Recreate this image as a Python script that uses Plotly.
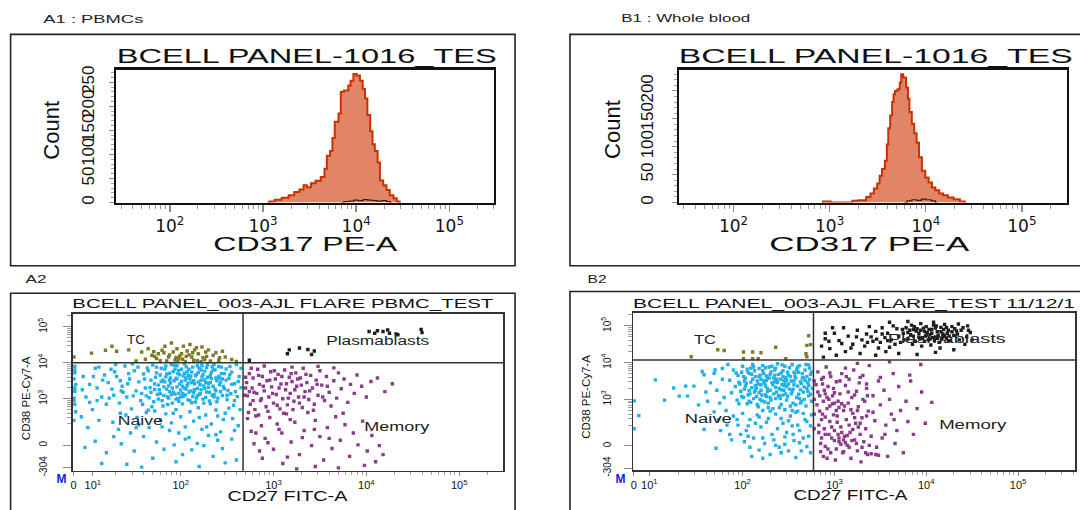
import math
import json
import plotly.graph_objects as go

W, H = 1080, 510

# ---------------- data ----------------
hist_decades = [2, 3, 4, 5]
hist_tick_text = ['10<sup>2</sup>', '10<sup>3</sup>', '10<sup>4</sup>', '10<sup>5</sup>']
count_ticks = [0, 50, 100, 150, 200, 250]

# A1 PBMCs, CD317 PE-A histogram (log10 intensity, counts)
a1_cd317_log = [3.05, 3.09, 3.16, 3.24, 3.31, 3.36, 3.42, 3.45, 3.49, 3.54,
                3.59, 3.65, 3.67, 3.70, 3.74, 3.75, 3.79, 3.83, 3.84, 3.90,
                3.93, 3.95, 3.99, 4.02, 4.06, 4.08, 4.11, 4.13, 4.17, 4.18,
                4.22, 4.24, 4.27, 4.31, 4.34, 4.38, 4.42, 4.45, 4.48]
a1_count = [0, 2, 6, 10, 15, 22, 27, 36, 32, 40,
            45, 53, 70, 97, 107, 134, 168, 185, 230, 233,
            243, 253, 267, 264, 253, 236, 216, 182, 148, 121,
            107, 83, 46, 36, 26, 15, 9, 2, 0]
a1_ctrl_log = [3.84, 3.90, 3.95, 4.00, 4.05, 4.10, 4.15, 4.20, 4.25, 4.30, 4.35, 4.38]
a1_ctrl_count = [0, 2, 3, 5, 4, 6, 5, 4, 3, 4, 2, 0]

# B1 whole blood
b1_cd317_log = [2.92, 2.94, 3.00, 3.02, 3.22, 3.25, 3.35, 3.41, 3.44, 3.48,
                3.51, 3.53, 3.56, 3.59, 3.60, 3.62, 3.64, 3.66, 3.67, 3.69,
                3.72, 3.74, 3.75, 3.78, 3.81, 3.82, 3.84, 3.87, 3.89, 3.92,
                3.94, 3.98, 4.01, 4.05, 4.08, 4.12, 4.16, 4.20, 4.26, 4.32,
                4.39, 4.42]
b1_count = [0, 2, 2, 0, 0, 3, 4, 10, 16, 25,
            34, 48, 60, 75, 104, 133, 156, 180, 194, 200,
            203, 215, 230, 224, 206, 186, 162, 141, 124, 107,
            81, 57, 45, 36, 27, 22, 16, 13, 9, 6,
            2, 0]
b1_ctrl_log = [3.78, 3.83, 3.88, 3.93, 3.98, 4.03, 4.08, 4.12]
b1_ctrl_count = [0, 3, 5, 4, 6, 5, 3, 0]

quadrant_names = ['TC', 'Plasmablasts', 'Naive', 'Memory']
scatter_y_text = ['-304', '0', '10<sup>3</sup>', '10<sup>4</sup>', '10<sup>5</sup>']
scatter_x_text = ['0', '10<sup>1</sup>', '10<sup>2</sup>', '10<sup>3</sup>', '10<sup>4</sup>', '10<sup>5</sup>']

# A2 PBMC events: (CD27 display decade, CD38 display decade)
a2_naive = [
 (1.72,3.41),(1.75,3.12),(1.78,3.66),(1.80,2.95),(1.81,3.52),(1.83,3.83),(1.85,3.27),(1.86,3.05),(1.88,3.71),(1.89,3.44),
 (1.91,2.88),(1.92,3.18),(1.93,3.93),(1.95,3.57),(1.96,3.33),(1.97,3.01),(1.98,3.79),(2.00,3.24),(2.01,3.48),(2.02,2.86),
 (2.03,3.63),(2.05,3.11),(2.06,3.89),(2.07,3.37),(2.08,2.97),(2.10,3.55),(2.11,3.22),(2.12,3.74),(2.13,3.06),(2.15,3.42),
 (2.16,2.91),(2.17,3.68),(2.18,3.29),(2.20,3.85),(2.21,3.14),(2.22,3.51),(2.24,2.99),(2.25,3.36),(2.26,3.77),(2.28,3.19),
 (2.29,3.60),(2.31,2.94),(2.32,3.45),(2.34,3.09),(2.35,3.81),(2.37,3.27),(2.38,3.58),(2.40,3.02),(2.42,3.39),(2.44,3.70),
 (1.74,3.88),(1.77,3.25),(1.79,3.48),(1.82,3.09),(1.84,3.61),(1.87,3.36),(1.90,3.96),(1.94,3.13),(1.99,3.67),(2.04,3.30),
 (2.09,3.82),(2.14,3.17),(2.19,3.47),(2.23,3.92),(2.27,3.04),(2.30,3.32),(2.33,3.73),(2.36,3.12),(2.39,3.50),(2.41,3.90),
 (2.43,3.20),(2.45,3.55),(1.76,2.99),(1.86,2.84),(1.96,3.92),(2.06,3.58),(2.16,3.64),(2.26,3.53),(2.36,3.95),(2.02,3.15),
 (1.92,3.76),(2.12,2.89),(2.22,3.25),(1.88,3.20),(2.08,3.43),(2.18,3.08),(2.28,3.87),(1.98,2.93),(2.32,2.86),(2.04,3.97),
 (1.61,3.55),(1.63,3.08),(1.65,3.78),(1.67,3.31),(1.70,3.94),(1.71,2.92),(1.73,3.60),(1.76,3.38),(1.79,3.85),(1.81,2.80),
 (1.83,3.47),(1.85,3.69),(1.87,3.02),(1.89,3.58),(1.91,3.30),(1.93,3.50),(1.95,2.99),(1.97,3.70),(1.99,3.41),(2.01,3.82),
 (2.03,3.07),(2.05,3.52),(2.07,3.75),(2.09,3.19),(2.11,3.63),(2.13,3.88),(2.15,3.25),(2.17,3.02),(2.19,3.73),(2.21,3.39),
 (2.23,3.61),(2.25,2.88),(2.27,3.45),(2.29,3.95),(2.31,3.18),(2.33,3.56),(2.35,3.35),(2.37,3.80),(2.39,2.92),(2.41,3.62),
 (2.43,3.46),(2.45,3.09),(2.47,3.70),(2.49,3.52),(2.51,3.23),(2.53,3.67),(2.55,3.40),(1.68,3.18),(1.74,3.72),(1.78,3.14),
 (1.84,3.91),(1.90,3.12),(1.96,3.55),(2.02,3.35),(2.08,3.65),(2.14,3.50),(2.20,3.12),(2.26,3.29),(2.32,3.64),(2.38,3.22),
 (2.44,3.88),(2.50,3.10),(1.88,3.52),(1.94,3.82),(2.00,3.05),(2.06,3.27),(2.12,3.45),(2.18,3.92),(2.24,3.68),(2.30,3.43),
 (2.36,3.05),(2.42,3.58),(1.82,3.33),(1.98,3.15),(2.10,2.95),(2.22,3.80),(2.34,3.90),(2.46,3.34),(1.72,3.26),(2.04,3.71),
 (1.22,3.45),(1.25,3.82),(1.28,3.10),(1.31,3.62),(1.34,2.88),(1.37,3.35),(1.40,3.91),(1.42,3.05),(1.45,3.55),(1.47,2.72),
 (1.50,3.78),(1.52,3.22),(1.55,3.47),(1.57,2.95),(1.60,3.69),(1.62,3.30),(1.64,3.86),(1.66,3.03),(1.68,3.52),(1.69,2.78),
 (1.30,3.95),(1.38,3.18),(1.48,3.97),(1.58,3.15),(1.63,2.62),(1.53,2.48),(1.44,3.70),(1.35,3.50),(1.26,3.27),(1.18,3.66),
 (1.15,3.05),(1.12,3.88),(1.10,3.30),(1.16,3.52),(1.23,3.02),(1.29,3.75),(1.36,3.22),(1.43,3.42),(1.49,3.08),(1.54,3.88),
 (1.59,2.85),(1.65,2.68),(1.02,2.90),(0.94,3.25),(1.06,3.62),(1.35,2.60),(1.52,2.20),
 (2.47,3.28),(2.49,3.83),(2.50,2.98),(2.52,3.57),(2.54,3.14),(2.55,3.74),(2.57,2.82),(2.58,3.42),(2.60,3.95),(2.61,3.06),
 (2.63,3.62),(2.64,2.70),(2.65,3.31),(2.48,2.60),(2.56,2.45),(2.62,2.25),(2.53,3.90),(2.59,3.20),(2.58,2.95),(2.62,3.48),
 (2.65,3.85),(2.52,2.74),
 (1.72,2.66),(1.78,2.41),(1.84,2.58),(1.90,2.33),(1.95,2.70),(2.00,2.50),(2.05,2.22),(2.10,2.64),(2.14,2.38),(2.19,2.75),
 (2.23,2.15),(2.27,2.55),(2.33,2.30),(2.38,2.69),(2.43,2.08),(2.46,2.42),(1.98,2.05),(2.09,1.92),(2.30,1.98),(2.40,1.85),
 (1.88,2.12),(2.18,1.76),(2.40,2.52),(2.20,2.48),(1.92,2.60),(1.80,2.22),(2.28,2.22),(2.58,2.12),
 (0.95,3.62),(0.98,3.05),(1.02,3.40),(1.05,2.70),(1.08,3.85),(1.10,2.95),(0.93,2.50),(1.00,2.20),(1.12,2.40),(1.20,2.85),
 (1.27,2.35),(1.33,2.15),(1.41,2.55),(1.46,2.05),(1.55,2.28),(1.60,1.95),(1.66,2.20),(1.74,1.80),(1.82,1.60),(1.93,1.72),
 (2.02,1.45),(2.12,1.58),(2.25,1.70),(2.35,1.40),(2.45,1.62),(2.55,1.88),(2.60,1.30),(1.70,1.35),(1.50,1.55),(1.36,1.75),
 (1.20,1.50),(1.08,1.82),(0.97,1.65),(1.15,1.20),(1.42,1.18),(1.95,1.25),(2.20,1.12),(2.48,1.22),(1.58,1.10),(2.05,1.88),
 (2.38,2.00),(1.28,1.95),
 (0.86,3.90),(0.86,3.72),(0.85,3.55),(0.87,3.40),(0.86,3.21),(0.85,3.02),(0.86,2.85),(0.87,2.64),(0.85,2.40),(0.86,3.80),
 (0.86,3.30),(0.85,2.95),
]
a2_tc = [
 (1.04,4.27),(1.19,4.35),(1.26,4.46),(1.31,4.32),(1.44,4.36),(1.58,4.30),(1.65,4.39),(1.69,4.21),(1.74,4.12),(1.76,4.25),
 (1.80,4.35),(1.83,4.46),(1.87,4.16),(1.90,4.55),(1.92,4.30),(1.96,4.39),(1.98,4.12),(2.01,4.25),(2.03,4.46),(2.07,4.33),
 (2.10,4.51),(2.12,4.16),(2.15,4.36),(2.19,4.25),(2.23,4.44),(2.26,4.09),(2.30,4.36),(2.35,4.21),(2.41,4.07),(2.48,4.16),
 (2.55,4.09),(0.85,4.16),(1.85,4.05),(1.94,4.08),(2.05,4.04),(2.14,4.07),(2.22,4.03),(1.78,4.06),(1.99,4.19),(2.09,4.22),
 (2.28,4.18),(1.71,4.31),(2.17,4.42),(1.62,4.10),(2.38,4.28),(2.60,4.04),(1.52,4.05),(2.45,4.32),(1.88,4.22),(1.95,4.15),
 (2.02,4.10),(2.06,4.18),(2.13,4.28),(2.18,4.06),(2.24,4.14),(2.32,4.05),(1.82,4.28),(1.97,4.04),(2.27,4.30),(1.72,4.18),
 (2.42,4.14),
]
a2_plasma = [
 (3.15,4.25),(3.17,4.36),(3.28,4.41),(3.37,4.37),(3.41,4.23),(3.44,4.33),(4.03,4.87),(4.09,4.82),(4.12,4.89),(4.18,4.87),
 (4.23,4.91),(4.25,4.82),(4.32,4.80),(4.34,4.78),(4.59,4.93),(4.60,4.84),(2.74,4.07),
]
a2_memory = [
 (2.71,3.45),(2.72,3.08),(2.74,3.70),(2.75,2.85),(2.77,3.30),(2.78,3.58),(2.80,2.70),(2.82,3.15),(2.83,3.82),(2.85,3.40),
 (2.86,2.95),(2.88,3.62),(2.90,3.22),(2.92,2.78),(2.93,3.50),(2.95,3.05),(2.97,3.75),(2.98,3.33),(3.00,2.88),(3.02,3.55),
 (3.03,3.12),(3.05,3.68),(3.07,2.72),(3.08,3.41),(3.10,3.00),(3.12,3.80),(3.13,3.25),(3.15,2.83),(3.17,3.60),(3.18,3.15),
 (3.20,3.48),(3.22,2.93),(3.24,3.72),(3.25,3.35),(3.27,3.05),(3.29,3.58),(3.31,2.76),(3.32,3.85),(3.34,3.20),(3.36,3.45),
 (3.38,2.98),(3.40,3.65),(3.42,3.30),(3.44,2.85),(3.46,3.52),(3.48,3.10),(3.50,3.78),(3.52,3.38),(3.55,2.95),(3.57,3.62),
 (3.60,3.18),(3.62,2.80),(3.65,3.50),(3.68,3.02),(3.70,3.72),(3.73,3.28),(3.76,3.55),(3.80,2.90),(3.83,3.40),(3.87,3.15),
 (3.90,3.66),(3.95,3.35),(4.00,3.05),(4.05,3.48),(4.12,3.58),(4.20,3.20),(4.28,3.42),(3.48,3.90),(3.20,3.88),(2.90,3.91),
 (3.65,3.86),
 (2.73,2.62),(2.76,3.85),(2.79,3.18),(2.81,2.52),(2.84,3.65),(2.87,3.00),(2.89,3.35),(2.94,2.65),(2.96,3.52),(2.99,3.15),
 (3.01,3.78),(3.04,2.82),(3.06,3.30),(3.09,3.62),(3.11,2.60),(3.14,3.42),(3.16,3.02),(3.19,3.70),(3.21,2.70),(3.23,3.25),
 (3.26,3.55),(3.28,2.88),(3.30,3.38),(3.33,3.05),(3.35,3.68),(3.39,3.22),(3.43,2.68),(3.47,3.40),(3.53,3.05),(3.58,3.35),
 (2.72,2.45),(2.76,2.10),(2.79,1.75),(2.84,2.55),(2.87,2.25),(2.91,1.90),(2.96,2.48),(3.00,1.60),(3.04,2.30),(3.09,2.05),
 (3.14,2.58),(3.19,1.80),(3.23,2.35),(3.28,1.45),(3.33,2.12),(3.37,2.62),(3.41,1.70),(3.45,2.40),(3.50,1.95),(3.54,1.30),
 (3.58,2.20),(3.63,1.62),(3.67,2.50),(3.72,1.85),(3.77,2.28),(3.82,1.40),(3.86,2.05),(3.91,1.72),(3.96,2.38),(4.01,1.55),
 (4.06,1.98),(4.10,1.25),(4.14,1.70),(4.18,1.45),(3.45,1.12),(3.10,1.20),(2.88,1.35),(3.70,1.08),(3.98,1.15),(3.25,1.05),
 (2.81,2.05),(2.94,1.78),(3.06,2.15),(3.18,2.42),(3.31,1.92),(3.44,2.15),(3.60,1.90),(3.75,2.60),(2.85,1.55),(3.15,1.38),
 (2.78,2.95),(2.74,3.20),(2.70,3.30),(2.70,3.60),(2.69,3.10),
]

# B2 whole blood events
b2_naive = [
 (1.86,3.52),(1.88,3.18),(1.90,3.80),(1.92,3.35),(1.94,2.98),(1.95,3.65),(1.97,3.42),(1.99,3.08),(2.00,3.90),(2.02,3.28),
 (2.03,3.58),(2.05,2.88),(2.06,3.73),(2.08,3.15),(2.09,3.47),(2.11,3.95),(2.12,3.02),(2.14,3.62),(2.15,3.30),(2.17,2.80),
 (2.18,3.84),(2.20,3.40),(2.21,3.12),(2.23,3.70),(2.24,2.93),(2.26,3.52),(2.27,3.22),(2.29,3.88),(2.30,3.05),(2.32,3.45),
 (2.33,2.75),(2.35,3.66),(2.36,3.33),(2.38,3.97),(2.39,3.10),(2.41,3.55),(2.42,2.86),(2.44,3.78),(2.45,3.25),(2.47,3.60),
 (2.48,2.98),(2.50,3.42),(2.51,3.86),(2.53,3.15),(2.54,2.70),(2.56,3.50),(2.57,3.72),(2.59,3.05),(2.60,3.36),(2.62,3.92),
 (2.63,2.90),(2.65,3.58),(2.66,3.20),(2.68,3.80),(2.69,2.82),(2.71,3.46),(2.72,3.10),(2.74,3.68),(2.75,2.95),(2.76,3.30),
 (1.93,3.72),(1.98,3.22),(2.04,3.44),(2.07,2.95),(2.10,3.68),(2.13,3.20),(2.16,3.50),(2.19,3.00),(2.22,3.92),(2.25,3.36),
 (2.28,2.90),(2.31,3.75),(2.34,3.15),(2.37,3.55),(2.40,2.78),(2.43,3.40),(2.46,3.90),(2.49,3.08),(2.52,3.62),(2.55,3.28),
 (2.58,2.85),(2.61,3.74),(2.64,3.44),(2.67,3.00),(2.70,3.62),(2.73,3.85),(2.01,3.62),(2.09,3.85),(2.18,3.62),(2.27,3.60),
 (2.36,3.85),(2.45,3.52),(2.54,3.95),(2.63,3.26),(2.72,3.38),(1.96,2.88),(2.22,2.70),(2.46,2.72),(2.60,2.68),(2.30,3.25),
 (2.40,3.30),(2.20,3.25),(2.35,3.48),(2.25,3.12),(2.48,3.35),(2.14,3.38),
 (1.96,3.46),(1.99,3.74),(2.01,3.05),(2.03,3.36),(2.05,3.82),(2.07,3.24),(2.09,2.92),(2.11,3.55),(2.13,3.78),(2.15,3.08),
 (2.17,3.42),(2.19,3.66),(2.21,2.96),(2.23,3.50),(2.25,3.86),(2.27,3.30),(2.29,3.58),(2.31,2.98),(2.33,3.40),(2.35,3.80),
 (2.37,3.20),(2.39,3.68),(2.41,3.02),(2.43,3.94),(2.45,3.38),(2.47,3.15),(2.49,3.74),(2.51,3.28),(2.53,3.50),(2.55,2.90),
 (2.57,3.62),(2.59,3.82),(2.61,3.14),(2.63,3.48),(2.65,3.70),(2.67,3.34),(2.69,3.95),(2.71,3.22),(2.73,3.54),(2.75,3.75),
 (2.02,3.50),(2.08,3.70),(2.14,3.26),(2.20,3.55),(2.26,3.08),(2.32,3.90),(2.38,3.46),(2.44,3.12),(2.50,3.66),(2.56,3.40),
 (2.62,3.02),(2.68,3.52),(2.74,3.14),(2.06,3.12),(2.12,3.88),(2.18,3.18),(2.24,3.44),(2.30,3.68),(2.36,3.02),(2.42,3.72),
 (2.48,3.52),(2.54,3.22),(2.60,3.88),(2.66,3.60),(2.72,3.94),(2.16,2.86),(2.28,2.78),(2.40,3.10),(2.52,2.82),(2.64,2.95),
 (2.34,3.58),(2.22,3.78),(2.46,3.44),(2.58,3.58),(2.70,3.30),(2.10,3.32),(2.26,3.64),(2.42,3.26),(2.56,3.74),(2.44,3.62),
 (1.90,2.55),(1.95,2.30),(2.00,2.62),(2.04,2.15),(2.08,2.45),(2.12,1.95),(2.16,2.58),(2.20,2.25),(2.24,1.80),(2.28,2.48),
 (2.32,2.05),(2.36,2.60),(2.40,1.70),(2.44,2.35),(2.48,2.10),(2.52,2.55),(2.56,1.88),(2.60,2.30),(2.64,1.60),(2.68,2.45),
 (2.72,2.00),(2.75,2.58),(2.02,1.85),(2.18,1.62),(2.30,1.50),(2.46,1.78),(2.58,1.42),(2.70,1.72),(2.38,2.20),(2.26,2.38),
 (2.50,2.42),(2.62,2.15),(2.14,2.35),(2.06,2.00),(2.34,1.90),(2.74,2.28),(1.98,2.05),(2.55,2.05),(2.42,1.55),(2.66,1.95),
 (1.94,2.45),(2.06,2.28),(2.18,2.52),(2.30,2.68),(2.42,2.48),(2.54,2.28),(2.66,2.62),(2.22,1.95),(2.46,1.98),(2.62,1.82),
 (2.74,1.55),(2.08,1.70),(2.36,1.75),(2.50,1.60),(2.58,2.65),(2.70,2.40),
 (1.05,3.53),(1.25,3.31),(1.38,3.36),(1.47,3.36),(1.56,3.76),(1.58,3.67),(1.69,3.71),(1.78,3.84),(1.15,2.98),(1.40,3.09),
 (0.87,2.56),(0.82,2.96),(0.82,2.20),(1.58,2.18),(1.71,1.67),(1.69,2.66),(1.31,3.09),
 (1.72,3.25),(1.75,2.90),(1.78,3.55),(1.80,3.05),(1.82,2.70),(1.84,3.95),(1.65,3.45),(1.62,2.95),(1.74,2.45),(1.83,2.30),
 (1.86,2.05),(1.70,3.80),(1.60,3.20),(1.52,2.85),(1.76,2.15),(1.88,1.90),(2.10,1.45),(2.22,1.40),
]
b2_tc = [
 (1.44,4.16),(1.73,4.35),(1.80,4.33),(2.01,4.29),(2.11,4.29),(2.20,4.27),(2.36,4.42),(2.47,4.11),(2.01,4.11),(2.11,4.11),
 (2.17,4.11),(2.70,4.47),(2.69,4.24),(2.72,4.73),(2.74,4.49),(2.70,4.16),
]
b2_plasma = [
 (3.75,4.80),(3.78,4.95),(3.80,4.65),(3.82,4.88),(3.84,5.02),(3.86,4.72),(3.88,4.58),(3.90,4.92),(3.92,4.80),(3.94,5.06),
 (3.96,4.68),(3.98,4.85),(4.00,4.98),(4.02,4.62),(4.04,4.76),(4.06,4.90),(4.08,5.10),(4.10,4.70),(4.12,4.84),(4.14,4.55),
 (4.16,4.96),(4.18,4.78),(4.20,5.04),(4.22,4.66),(4.24,4.88),(4.26,4.60),(4.28,4.98),(4.30,4.74),(4.33,4.86),(4.36,4.62),
 (4.40,4.95),(4.44,4.70),(4.48,4.82),(3.85,4.50),(3.95,4.45),(4.05,4.48),(4.15,4.40),(3.70,4.72),(3.72,4.55),(3.68,4.92),
 (4.01,4.82),(4.09,4.60),(3.93,4.64),(4.19,4.90),(3.83,4.76),(4.11,5.00),(3.99,4.72),(4.23,4.80),(3.89,4.86),(4.07,4.68),
 (3.97,4.94),(4.13,4.74),(3.87,4.98),(4.03,4.90),(4.17,4.64),(4.25,4.72),(4.31,4.92),
 (3.92,4.70),(3.98,4.58),(4.04,4.64),(4.10,4.94),(4.16,4.84),(4.22,4.96),(4.28,4.84),(3.86,4.90),(3.80,4.82),(4.00,4.75),
 (4.06,4.80),(4.12,4.66),(4.18,4.70),(4.24,4.60),(3.94,4.88),(4.08,5.02),(4.20,4.74),(3.76,4.62),(3.74,4.90),(4.34,4.78),
 (4.38,4.88),(4.46,4.88),
 (3.40,4.70),(3.45,4.85),(3.50,4.55),(3.52,4.95),(3.55,4.68),(3.58,4.80),(3.60,4.42),(3.62,4.62),(3.64,5.00),(3.66,4.50),
 (3.56,4.30),(3.48,4.40),(3.42,4.58),(3.35,4.78),(3.30,4.62),(3.25,4.88),(3.20,4.50),(3.15,4.72),(3.10,4.95),(3.05,4.60),
 (3.00,4.80),(2.95,4.38),(2.90,4.65),(2.86,4.45),(3.12,4.30),(3.28,4.25),(3.45,4.20),(3.70,4.25),(3.90,4.22),(4.10,4.28),
 (4.30,4.35),(4.42,4.50),(4.50,4.62),(3.02,4.20),(2.88,4.15),(3.38,4.98),(3.60,5.10),(3.80,5.12),(4.35,5.05),(4.45,5.00),
 (3.18,4.40),(3.33,4.45),(2.98,4.95),(3.58,4.60),(3.52,4.78),(3.46,4.64),(3.36,4.55),(3.24,4.70),(3.08,4.52),(2.94,4.58),
 (2.90,4.80),
]
b2_memory = [
 (2.80,3.40),(2.81,2.85),(2.82,3.75),(2.83,2.30),(2.84,3.10),(2.85,1.80),(2.86,3.55),(2.87,2.60),(2.88,1.45),(2.89,3.25),
 (2.90,2.05),(2.91,3.88),(2.92,2.75),(2.93,1.65),(2.94,3.00),(2.95,2.40),(2.96,3.62),(2.97,1.95),(2.98,2.88),(2.99,3.30),
 (3.00,2.15),(3.01,1.35),(3.02,3.48),(3.03,2.55),(3.04,2.95),(3.05,1.85),(3.06,3.15),(3.07,2.25),(3.08,3.70),(3.09,1.55),
 (3.10,2.70),(3.11,2.00),(3.12,3.38),(3.13,2.45),(3.14,1.75),(3.15,2.90),(3.16,3.55),(3.17,2.10),(3.18,1.40),(3.19,3.05),
 (3.20,2.62),(3.21,3.80),(3.22,1.90),(3.23,2.35),(3.24,3.22),(3.25,1.60),(3.26,2.80),(3.27,3.45),(3.28,2.05),(3.29,1.30),
 (3.30,2.50),(3.31,3.65),(3.32,1.85),(3.33,2.95),(3.34,2.20),(3.35,3.30),(3.36,1.50),(3.37,2.68),(3.38,3.92),(3.40,2.00),
 (3.42,3.10),(3.44,2.42),(3.46,1.70),(3.48,3.50),(3.50,2.85),(3.52,1.95),(3.54,3.25),(3.56,2.30),(3.58,1.45),(3.60,3.00),
 (3.62,2.60),(3.64,3.70),(3.66,1.80),(3.68,2.15),(3.70,3.35),(3.72,2.70),(3.75,1.55),(3.78,2.95),(3.80,2.40),(3.83,3.50),
 (3.86,2.05),(3.90,2.75),(3.95,3.20),(3.99,2.35),(3.60,4.02),(3.25,3.98),
 (2.95,2.82),(3.00,2.90),(3.05,2.78),(3.02,2.70),(3.08,2.88),(3.10,1.90),(3.05,1.95),(3.12,1.82),(3.07,1.78),(3.00,1.88),
 (2.90,3.15),(2.93,3.35),(2.88,2.95),(2.98,3.10),(3.15,3.20),(3.18,2.72),(3.22,2.50),(2.86,2.45),(2.89,2.20),(2.94,2.05),
 (3.26,2.25),(3.30,1.70),(3.34,1.55),(3.40,1.52),(3.45,1.50),(3.48,1.48),(2.85,1.58),(2.92,1.40),(3.28,3.60),(3.35,3.42),
 (2.82,3.20),(2.84,2.68),(2.87,3.42),(2.90,2.52),(2.92,3.05),(2.95,3.72),(2.97,2.25),(3.00,3.18),(3.03,2.38),(3.06,3.50),
 (3.08,2.10),(3.11,2.82),(3.13,3.62),(3.16,2.30),(3.19,1.88),(3.22,3.12),(3.25,2.70),(3.28,2.35),(3.31,3.00),(3.35,2.55),
 (2.86,1.95),(2.90,1.72),(2.96,1.55),(3.02,1.65),(3.10,1.58),(3.16,1.70),(3.24,1.80),(3.38,1.75),(2.83,2.10),(2.99,2.58),
 (3.04,2.05),(3.14,2.02),(3.20,2.18),(3.42,2.65),(3.55,2.05),(3.65,2.45),(2.88,3.60),(3.12,3.85),(3.36,3.10),(3.50,3.60),
 (4.06,2.92),(3.94,3.95),(3.82,3.66),(2.78,3.00),(2.78,2.60),(2.78,3.50),(2.78,2.20),
]

# ---------------- helpers ----------------
def px(x):
    return x / W


def py(y):
    return 1 - y / H


FONT = 'Liberation Sans, Arial, sans-serif'
fig = go.Figure()

HIST_FILL = '#E28566'
HIST_LINE = '#C83200'


def add_hist(xv, yv, cx, cy, xa, ya):
    fig.add_trace(go.Scatter(x=xv, y=yv, mode='lines', fill='tozeroy', fillcolor=HIST_FILL,
                             line=dict(shape='hvh', color=HIST_LINE, width=2),
                             xaxis=xa, yaxis=ya, hoverinfo='skip'))
    fig.add_trace(go.Scatter(x=cx, y=cy, mode='lines',
                             line=dict(shape='hvh', color='#3a1c12', width=1.2),
                             xaxis=xa, yaxis=ya, hoverinfo='skip'))


add_hist(a1_cd317_log, a1_count, a1_ctrl_log, a1_ctrl_count, 'x', 'y')
add_hist(b1_cd317_log, b1_count, b1_ctrl_log, b1_ctrl_count, 'x2', 'y2')

POP_COLORS = {'naive': '#1FB2EA', 'tc': '#7E7A24', 'plasma': '#1E1E1E', 'memory': '#8C3A8C'}


def add_pop(pts, color, xa, ya):
    xs = [p[0] for p in pts]
    ys = [p[1] for p in pts]
    fig.add_trace(go.Scatter(x=xs, y=ys, mode='markers', xaxis=xa, yaxis=ya, hoverinfo='skip',
                             marker=dict(symbol='square', size=3.4, color=color, line=dict(width=0))))


add_pop(a2_naive, POP_COLORS['naive'], 'x3', 'y3')
add_pop(a2_memory, POP_COLORS['memory'], 'x3', 'y3')
add_pop(a2_tc, POP_COLORS['tc'], 'x3', 'y3')
add_pop(a2_plasma, POP_COLORS['plasma'], 'x3', 'y3')
add_pop(b2_naive, POP_COLORS['naive'], 'x4', 'y4')
add_pop(b2_memory, POP_COLORS['memory'], 'x4', 'y4')
add_pop(b2_tc, POP_COLORS['tc'], 'x4', 'y4')
add_pop(b2_plasma, POP_COLORS['plasma'], 'x4', 'y4')

# ---------------- axes ----------------
log_minor = [d + math.log10(k) for d in range(1, 6) for k in range(2, 10)]


def hist_axes(xdom, ydom, xr, yr, anchor_x, anchor_y, standoff):
    xa = dict(domain=xdom, range=xr, anchor=anchor_y, tickmode='array',
              tickvals=hist_decades, ticktext=hist_tick_text,
              ticks='outside', ticklen=7, tickwidth=1.5, tickcolor='#8a8a8a',
              tickfont=dict(family='DejaVu Sans, sans-serif', size=17, color='#111'),
              showline=True, linecolor='#111', linewidth=2.2, mirror=True,
              showgrid=False, zeroline=False, fixedrange=True,
              minor=dict(tickmode='array', tickvals=[v for v in log_minor if xr[0] < v < xr[1]],
                         ticks='outside', ticklen=4, tickwidth=1, tickcolor='#9a9a9a'))
    ya = dict(domain=ydom, range=yr, anchor=anchor_x, tickmode='array', tickvals=count_ticks,
              ticktext=[str(v) for v in count_ticks], tickangle=-90,
              ticks='outside', ticklen=5, tickwidth=1.2, tickcolor='#8a8a8a',
              ticklabelstandoff=standoff,
              tickfont=dict(family='Liberation Sans Narrow, Liberation Sans, Arial', size=17, color='#111'),
              showline=True, linecolor='#111', linewidth=2.2, mirror=True,
              showgrid=False, zeroline=False, fixedrange=True,
              minor=dict(dtick=10, ticks='outside', ticklen=3, tickwidth=1, tickcolor='#a0a0a0'))
    return xa, ya


xa1, ya1 = hist_axes([px(114), px(493)], [py(202.5), py(67)], [1.42, 5.48], [0, 276], 'x', 'y', 8)
xa2, ya2 = hist_axes([px(678), px(1067)], [py(202.5), py(67)], [1.43, 5.47], [0, 238], 'x2', 'y2', 12)


def scatter_axes(xdom, ydom, xr, yr, xticks, yticks, anchor_x, anchor_y, standoff):
    xa = dict(domain=xdom, range=xr, anchor=anchor_y, tickmode='array', tickvals=xticks,
              ticktext=scatter_x_text, ticks='outside', ticklen=4, tickcolor='#8a8a8a',
              tickfont=dict(family=FONT, size=11, color='#111'),
              showline=True, linecolor='#333', linewidth=1.5, mirror=True,
              showgrid=False, zeroline=False, fixedrange=True,
              minor=dict(tickmode='array', tickvals=[v for v in log_minor if xr[0] < v < xr[1]],
                         ticks='outside', ticklen=3, tickcolor='#a0a0a0'))
    yminor = [d + math.log10(k) for d in range(2, 6) for k in range(2, 10)]
    ya = dict(domain=ydom, range=yr, anchor=anchor_x, tickmode='array', tickvals=yticks,
              ticktext=scatter_y_text, tickangle=-90, ticks='outside', ticklen=8, tickcolor='#8a8a8a',
              ticklabelstandoff=standoff,
              tickfont=dict(family=FONT, size=10, color='#111'),
              showline=True, linecolor='#333', linewidth=1.5, mirror=True,
              showgrid=False, zeroline=False, fixedrange=True,
              minor=dict(tickmode='array', tickvals=[v for v in yminor if yr[0] < v < yr[1]],
                         ticks='outside', ticklen=4, tickcolor='#a0a0a0'))
    return xa, ya


xa3, ya3 = scatter_axes([px(71), px(502)], [py(476), py(316)], [0.839, 5.473], [1.003, 5.362],
                        [0.846, 1.054, 2, 3, 4, 5], [1.084, 1.711, 3, 4, 5], 'x3', 'y3', 12)
xa4, ya4 = scatter_axes([px(632.3), px(1075)], [py(475.7), py(315)], [0.808, 5.62], [1.07, 5.355],
                        [0.815, 0.984, 2, 3, 4, 5], [1.133, 1.736, 3, 4, 5], 'x4', 'y4', 9)

# ---------------- shapes ----------------
shapes = []
for (x0, y0, x1, y1) in [(8.6, 31, 514, 267), (569, 31, 1095, 267), (8.6, 295, 514, 520), (569, 293.3, 1095, 520)]:
    shapes.append(dict(type='rect', xref='paper', yref='paper', x0=px(x0), x1=px(x1), y0=py(y1), y1=py(y0),
                       line=dict(color='#222', width=1.6), fillcolor='rgba(0,0,0,0)', layer='below'))
for xa, ya, gx, gy in [('x3', 'y3', 2.672, 4.0), ('x4', 'y4', 2.772, 4.07)]:
    shapes.append(dict(type='line', xref=xa, yref=ya + ' domain', x0=gx, x1=gx, y0=0, y1=1,
                       line=dict(color='#333', width=1.5)))
    shapes.append(dict(type='line', xref=xa + ' domain', yref=ya, x0=0, x1=1, y0=gy, y1=gy,
                       line=dict(color='#333', width=1.5)))

# ---------------- annotations ----------------
# text, x px, y px, size, stretched width (px) or None, angle, color, bold
specs = [
    ('A1 : PBMCs', 91.3, 15, 11.5, 100, 0, '#222', False),
    ('B1 : Whole blood', 685.5, 14, 11.5, 129, 0, '#222', False),
    ('A2', 34.4, 280, 11.5, 21, 0, '#222', False),
    ('B2', 596, 280, 11.5, 19, 0, '#222', False),
    ('BCELL PANEL-1016_TES', 305, 54, 20, 380, 0, '#111', False),
    ('BCELL PANEL-1016_TES', 875, 54, 20, 394, 0, '#111', False),
    ('CD317 PE-A', 304, 245, 20, 184, 0, '#111', False),
    ('CD317 PE-A', 869, 245, 20, 200, 0, '#111', False),
    ('Count', 50, 128.3, 22, None, -90, '#111', False),
    ('Count', 612.3, 128.3, 22, None, -90, '#111', False),
    ('BCELL PANEL_003-AJL FLARE PBMC_TEST', 282, 306.5, 12, 421, 0, '#111', False),
    ('BCELL PANEL_003-AJL FLARE_TEST 11/12/1', 854, 306, 12, 442, 0, '#111', False),
    ('CD38 PE-Cy7-A', 24.1, 402, 11.5, None, -90, '#111', False),
    ('CD38 PE-Cy7-A', 584.8, 401, 11.5, None, -90, '#111', False),
    ('CD27 FITC-A', 285.8, 502, 14, 120, 0, '#111', False),
    ('CD27 FITC-A', 850, 501, 14, 114, 0, '#111', False),
    ('M', 59.4, 484, 13, 10, 0, '#1616F0', True),
    ('M', 619.2, 484, 13, 10, 0, '#1616F0', True),
    (quadrant_names[0], 134, 343, 12, 18, 0, '#222', False),
    (quadrant_names[1], 376, 343.3, 12, 103, 0, '#222', False),
    (quadrant_names[2], 139, 425.7, 12, 45, 0, '#222', False),
    (quadrant_names[3], 395.5, 431.7, 12, 65, 0, '#222', False),
    (quadrant_names[0], 704, 342.3, 12, 22, 0, '#222', False),
    (quadrant_names[1], 946, 342, 12, 118, 0, '#222', False),
    (quadrant_names[2], 708, 423.3, 12, 47, 0, '#222', False),
    (quadrant_names[3], 972, 429, 12, 67, 0, '#222', False),
]
annotations = []
widths = []
for text, x, y, size, wpx, ang, col, bold in specs:
    annotations.append(dict(text=('<b>%s</b>' % text) if bold else text, x=px(x), y=py(y),
                            xref='paper', yref='paper', xanchor='center', yanchor='middle',
                            showarrow=False, textangle=ang,
                            font=dict(family=FONT, size=size, color=col)))
    widths.append(wpx)

fig.update_layout(
    width=W, height=H, margin=dict(l=0, r=0, t=0, b=0),
    paper_bgcolor='white', plot_bgcolor='white', showlegend=False,
    xaxis=xa1, yaxis=ya1, xaxis2=xa2, yaxis2=ya2,
    xaxis3=xa3, yaxis3=ya3, xaxis4=xa4, yaxis4=ya4,
    shapes=shapes, annotations=annotations,
)

post = """
var gd = document.getElementById('{plot_id}');
var WID = %s;
function fitText(){
  gd.querySelectorAll('g.annotation').forEach(function(g){
    var i = parseInt(g.getAttribute('data-index'));
    var w = WID[i];
    if (w) {
      var t = g.querySelector('text.annotation-text');
      if (t) { t.setAttribute('textLength', w); t.setAttribute('lengthAdjust', 'spacingAndGlyphs'); }
    }
  });
}
fitText();
gd.on('plotly_afterplot', fitText);
""" % json.dumps(widths)

fig.write_html('out.html', post_script=post, config={'displayModeBar': False, 'staticPlot': True})
